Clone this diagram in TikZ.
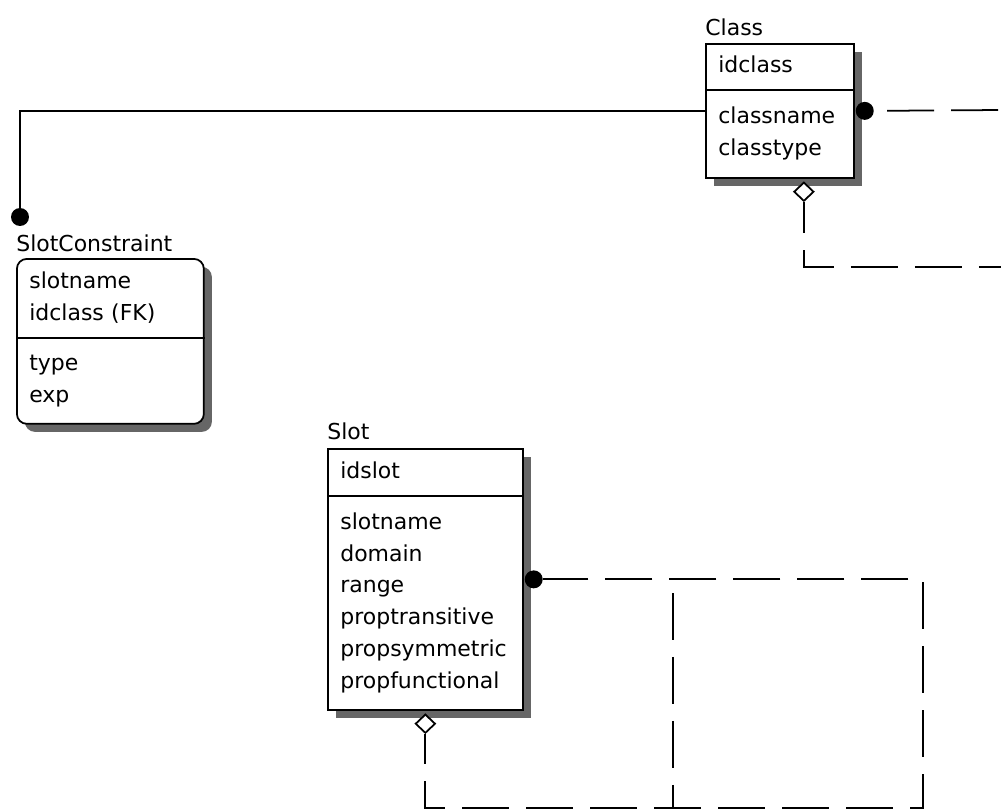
\documentclass[tikz,border=0pt]{standalone}
\usepackage{fontspec}
\setmainfont{DejaVu Sans}
\usetikzlibrary{shapes.geometric,shadows}

\newcommand{\erfont}{\fontsize{12.5pt}{18.14pt}\selectfont}

\tikzset{
  entity/.style={draw, fill=white, anchor=north west, inner sep=0pt, line width=1pt,
    drop shadow={shadow xshift=0.16cm, shadow yshift=-0.16cm, fill=black!60, opacity=1}},
  attrs/.style={anchor=west, inner sep=0pt, text width=3.4cm, align=left, font=\erfont,
    execute at begin node=\strut, execute at end node=\strut},
  title/.style={anchor=base west, inner sep=0pt, font=\erfont},
  fkdot/.style={circle, fill, inner sep=0pt, minimum size=0.36cm},
  nulldia/.style={diamond, draw, fill=white, inner sep=0pt, line width=1pt,
    minimum width=0.4cm, minimum height=0.38cm},
  idline/.style={line width=1pt},
  nonid/.style={line width=1pt, dash pattern=on 0.94cm off 0.34cm}
}

\begin{document}
\begin{tikzpicture}[x=0.02cm, y=-0.02cm]
  \useasboundingbox (0,0) rectangle (1001,811);

  % Class
  \node[entity, minimum width=2.96cm, minimum height=2.68cm] (class) at (705,43) {};
  \node[title] (class title) at ([yshift=0.16cm]class.north west) {Class};
  \node[attrs] (class key) at ([shift={(13,23.5)}]class.north west) {idclass};
  \draw[idline] ([yshift=-0.94cm]class.north west) -- ([yshift=-0.94cm]class.north east);
  \node[attrs] (class attr) at ([shift={(13,90.5)}]class.north west) {classname\\classtype};

  % SlotConstraint
  \node[entity, rounded corners=0.2cm, minimum width=3.74cm, minimum height=3.3cm] (sc) at (16,258) {};
  \node[title] (sc title) at ([yshift=0.14cm]sc.north west) {SlotConstraint};
  \node[attrs] (sc key) at ([shift={(13,40)}]sc.north west) {slotname\\idclass (FK)};
  \draw[idline] ([yshift=-1.6cm]sc.north west) -- ([yshift=-1.6cm]sc.north east);
  \node[attrs] (sc attr) at ([shift={(13,122.5)}]sc.north west) {type\\exp};

  % Slot
  \node[entity, minimum width=3.9cm, minimum height=5.22cm] (slot) at (327,448) {};
  \node[title] (slot title) at ([yshift=0.18cm]slot.north west) {Slot};
  \node[attrs] (slot key) at ([shift={(13,24)}]slot.north west) {idslot};
  \draw[idline] ([yshift=-0.96cm]slot.north west) -- ([yshift=-0.96cm]slot.north east);
  \node[attrs] (slot attr) at ([shift={(13,154.5)}]slot.north west)
    {slotname\\domain\\range\\proptransitive\\propsymmetric\\propfunctional};

  % ends of the relationships
  \node[fkdot] (sc dot) at ([shift={(4,-41)}]sc.north west) {};
  \node[fkdot] (class dot) at ([xshift=0.2cm]class.east) {};
  \node[fkdot] (slot dot) at ([xshift=0.2cm]slot.east) {};
  \node[nulldia] (class dia) at ([shift={(24,13)}]class.south) {};
  \node[nulldia] (slot dia) at ([yshift=-0.26cm]slot.south) {};

  \coordinate (class out) at (1001,110);
  \coordinate (class loop) at (1001,267);
  \coordinate (slot se) at (923,808);
  \coordinate (split top) at (673,579);
  \coordinate (split bot) at (673,808);

  % relationships
  \draw[idline] (class.west) -| (sc dot);
  \draw[nonid, dash phase=1.02cm] (class dot.east) -- (class out);
  \draw[nonid, dash phase=0.32cm] (class dia.south) |- (class loop);
  \draw[nonid, dash phase=0.34cm] (slot dia.south) |- (slot se) |- (slot dot.east);
  \draw[nonid, dash phase=1.0cm] (split top) -- (split bot);
\end{tikzpicture}
\end{document}
